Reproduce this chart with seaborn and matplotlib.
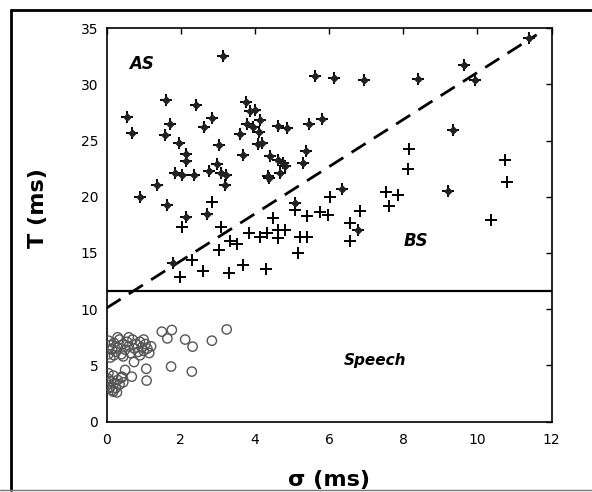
import numpy as np
import pandas as pd
import matplotlib
matplotlib.use("Agg")
import matplotlib.pyplot as plt
from matplotlib.lines import Line2D
import seaborn as sns

# ---- data (sigma in ms, T in ms) ----
as_sigma = [0.54, 0.68, 0.89, 1.37, 1.60, 1.71, 1.58, 1.64, 1.96, 1.85, 2.03, 2.36, 2.14, 2.14,
            2.41, 2.63, 2.85, 3.03, 3.15, 2.76, 2.99, 3.08, 3.21, 3.20, 2.14, 2.70, 3.60, 3.67,
            3.76, 3.87, 4.00, 3.78, 3.96, 4.14, 4.12, 4.09, 4.20, 4.41, 4.39, 4.63, 4.86, 4.63,
            4.75, 4.81, 4.68, 5.31, 5.38, 5.47, 5.80, 5.62, 6.14, 6.93, 6.34, 8.41, 9.64, 9.94,
            11.38, 9.34, 9.20, 5.08, 6.79, 1.80, 4.36]
as_T = [27.06, 25.7, 19.95, 21.0, 28.6, 26.5, 25.5, 19.3, 24.8, 22.1, 21.95, 21.95, 23.8, 23.2,
        28.15, 26.2, 26.97, 24.6, 32.5, 22.3, 22.9, 22.1, 21.9, 21.0, 18.2, 18.5, 25.6, 23.7,
        28.45, 27.6, 27.7, 26.5, 26.2, 26.8, 25.8, 24.7, 24.8, 23.65, 21.7, 26.3, 26.1, 23.3,
        22.97, 22.7, 22.1, 22.97, 24.1, 26.5, 26.9, 30.7, 30.6, 30.4, 20.65, 30.46, 31.7, 30.4,
        34.1, 25.9, 20.5, 19.4, 17.04, 14.1, 21.8]

bs_sigma = [2.03, 2.84, 3.08, 6.03, 5.08, 5.40, 5.76, 5.98, 4.50, 3.85, 4.14, 4.32, 4.63, 4.81,
            4.63, 5.22, 5.40, 3.33, 3.51, 3.04, 6.57, 6.57, 6.84, 5.17, 2.30, 1.98, 2.61, 3.29,
            3.67, 4.30, 8.17, 8.14, 10.75, 10.81, 7.54, 7.87, 7.63, 10.36]
bs_T = [17.35, 19.56, 17.35, 20.0, 18.8, 18.3, 18.6, 18.4, 18.1, 16.8, 16.45, 16.8, 17.0, 17.0,
        16.3, 16.4, 16.4, 16.1, 15.8, 15.26, 17.7, 16.1, 18.75, 15.0, 14.37, 12.83, 13.4, 13.25,
        13.9, 13.6, 24.2, 22.5, 23.3, 21.35, 20.4, 20.15, 19.2, 17.9]

speech_sigma = [0.05, 0.10, 0.15, 0.20, 0.25, 0.30, 0.35, 0.40, 0.45, 0.50, 0.55, 0.60, 0.65, 0.70,
                0.75, 0.80, 0.85, 0.90, 0.95, 1.00, 1.05, 1.10, 1.15, 1.20, 0.05, 0.10, 0.20, 0.30,
                0.60, 1.00, 0.45, 0.15, 0.90,
                0.02, 0.05, 0.10, 0.12, 0.18, 0.20, 0.25, 0.30, 0.35, 0.40, 0.05, 0.15, 0.28, 0.45,
                0.08,
                0.41, 0.68, 0.74, 1.07, 1.08, 0.18, 1.49, 1.76, 1.64, 2.12, 2.32, 2.84, 3.24, 1.74,
                2.30, 0.50]
speech_T = [7.2, 6.8, 6.4, 7.0, 6.2, 6.6, 7.3, 6.0, 6.9, 6.4, 7.1, 6.7, 6.1, 7.3,
            6.5, 6.9, 6.2, 7.1, 6.6, 6.3, 6.9, 6.5, 6.1, 6.7, 6.0, 5.7, 5.9, 7.5,
            7.5, 7.3, 5.8, 6.5, 5.9,
            3.3, 3.8, 3.1, 3.6, 4.1, 3.4, 3.0, 3.7, 3.3, 3.9, 4.3, 2.8, 2.6, 3.5,
            3.0,
            4.0, 4.0, 5.3, 4.7, 3.65, 2.67, 8.0, 8.15, 7.4, 7.3, 6.67, 7.2, 8.2, 4.9,
            4.45, 4.6]

threshold_T = 11.6
boundary_intercept = 10.1
boundary_slope = 2.095
boundary_sigma_end = 11.6

x_ticks = [0, 2, 4, 6, 8, 10, 12]
y_ticks = [0, 5, 10, 15, 20, 25, 30, 35]

df_as = pd.DataFrame({"sigma": as_sigma, "T": as_T})
df_bs = pd.DataFrame({"sigma": bs_sigma, "T": bs_T})
df_sp = pd.DataFrame({"sigma": speech_sigma, "T": speech_T})

sns.set_style("white")
plt.rcParams["font.family"] = ["DejaVu Sans"]
plt.rcParams["text.color"] = "black"
plt.rcParams["axes.labelcolor"] = "black"
plt.rcParams["xtick.color"] = "black"
plt.rcParams["ytick.color"] = "black"

fig = plt.figure(figsize=(5.92, 4.92), dpi=100)
ax = fig.add_axes([0.180, 0.143, 0.7516, 0.800])

# speech: open circles
sns.scatterplot(data=df_sp, x="sigma", y="T", ax=ax, marker="o", s=45,
                facecolors="none", edgecolor="#555555", linewidth=1.0, zorder=3)
# BS: plus signs
sns.scatterplot(data=df_bs, x="sigma", y="T", ax=ax, marker="+", s=80,
                color="black", linewidth=1.4, zorder=4)
# AS: plus with filled diamond centre
sns.scatterplot(data=df_as, x="sigma", y="T", ax=ax, marker="+", s=85,
                color="black", linewidth=1.4, zorder=4)
sns.scatterplot(data=df_as, x="sigma", y="T", ax=ax, marker="D", s=16,
                color="#222222", edgecolor="#222222", linewidth=0.5, zorder=5)

# boundaries
ax.axhline(threshold_T, color="black", lw=1.6, zorder=2)
bx = np.array([0.0, boundary_sigma_end])
ax.plot(bx, boundary_intercept + boundary_slope * bx, color="black", lw=2.0,
        dashes=(6, 3.5), zorder=2)

ax.set_xlim(0, 12)
ax.set_ylim(0, 35)
ax.set_xticks(x_ticks)
ax.set_yticks(y_ticks)
ax.tick_params(direction="in", length=4, width=1, top=True, right=True,
               labelsize=10, pad=6)
ax.tick_params(axis="x", pad=8)
for sp in ax.spines.values():
    sp.set_color("black")
    sp.set_linewidth(1.2)

ax.set_xlabel("σ (ms)", fontsize=16, fontweight="bold")
ax.set_ylabel("T (ms)", fontsize=16, fontweight="bold")
ax.xaxis.set_label_coords(0.5, -0.122)
ax.yaxis.set_label_coords(-0.132, 0.543)

ax.text(0.62, 31.8, "AS", fontsize=12, fontweight="bold", fontstyle="italic",
        va="center", ha="left")
ax.text(8.0, 16.1, "BS", fontsize=12, fontweight="bold", fontstyle="italic",
        va="center", ha="left")
ax.text(6.4, 5.4, "Speech", fontsize=11, fontweight="bold", fontstyle="italic",
        va="center", ha="left")

# figure border (scan frame)
fig.add_artist(Line2D([11 / 592, 11 / 592], [1 - 10 / 492, 1 - 490 / 492],
                      transform=fig.transFigure, color="black", lw=2))
fig.add_artist(Line2D([11 / 592, 1.0], [1 - 10 / 492, 1 - 10 / 492],
                      transform=fig.transFigure, color="black", lw=2))
fig.add_artist(Line2D([0.0, 1.0], [1 - 490 / 492, 1 - 490 / 492],
                      transform=fig.transFigure, color="#777777", lw=1))

fig.savefig("out.png", dpi=100)
